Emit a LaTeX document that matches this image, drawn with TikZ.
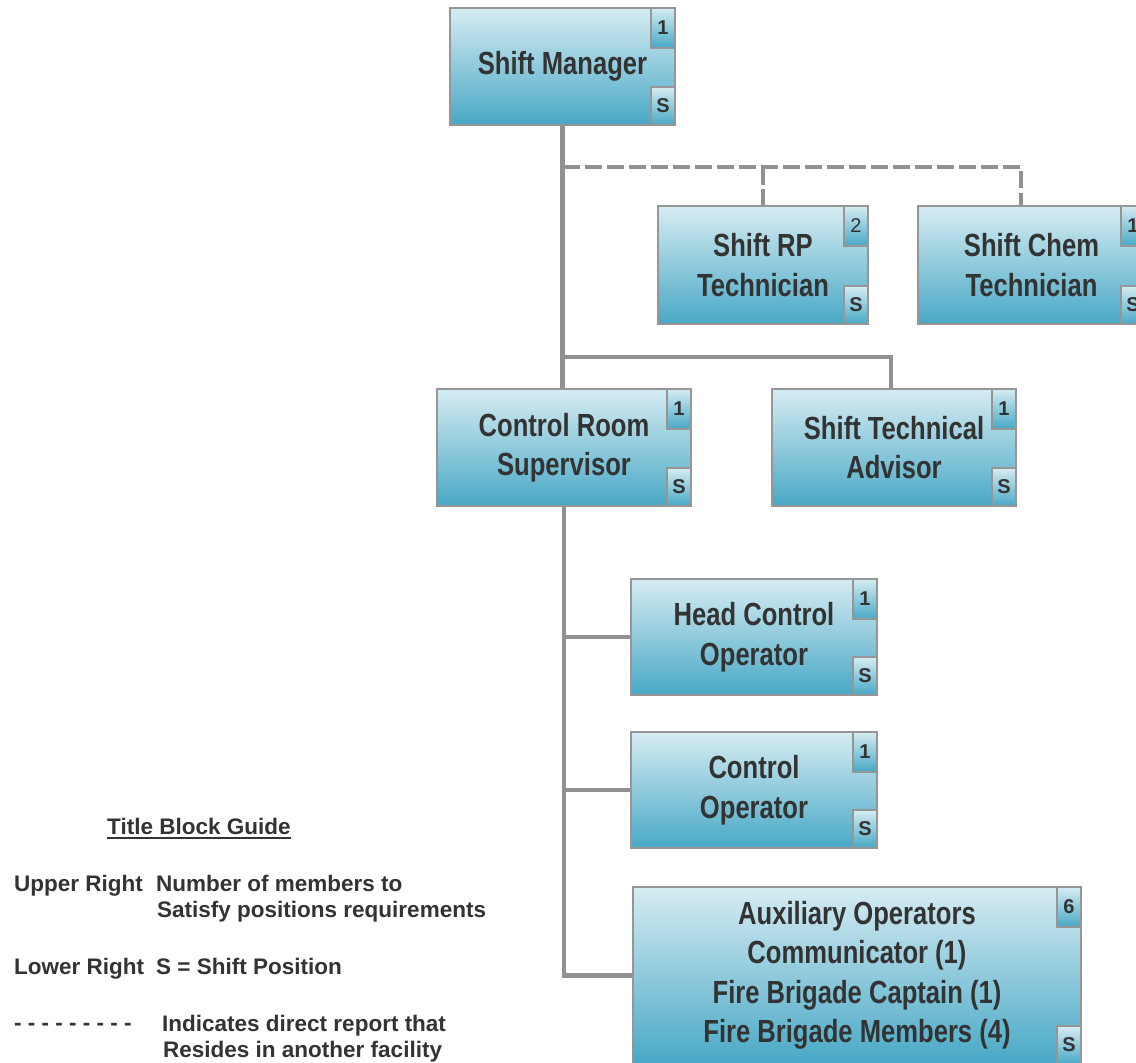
\documentclass[tikz,border=0pt]{standalone}
\usepackage{fontspec}
\setmainfont{Liberation Sans}
\newfontfamily\condensed[FakeStretch=0.8]{Liberation Sans}
\usetikzlibrary{calc}

\definecolor{boxtop}{RGB}{214,236,242}
\definecolor{boxbot}{RGB}{72,168,198}
\definecolor{edge}{RGB}{150,150,150}
\definecolor{wire}{RGB}{145,145,145}
\definecolor{ink}{RGB}{51,51,51}

\begin{document}
\begin{tikzpicture}[x=1pt,y=-1pt,
  post/.style={draw=edge, line width=2pt, top color=boxtop, bottom color=boxbot,
    inner sep=0pt, align=center, text=ink,
    font={\condensed\bfseries\fontsize{32}{39.5}\selectfont}},
  badge/.style={draw=edge, line width=2pt, top color=boxtop, bottom color=boxbot,
    inner sep=0pt, minimum width=24pt, text=ink,
    font={\bfseries\fontsize{20}{24}\selectfont}},
  numtag/.style={badge, minimum height=40pt, anchor=north east},
  shifttag/.style={badge, minimum height=38pt, anchor=south east},
  link/.style={draw=wire, line width=4.5pt},
  dlink/.style={draw=wire, line width=4.5pt, dash pattern=on 17.5pt off 4.5pt},
  legend/.style={inner sep=0pt, anchor=base west, text=ink,
    font={\bfseries\fontsize{22.5}{27}\selectfont}}
]
\useasboundingbox (0,0) rectangle (1136,1063);

% position boxes
\node[post, minimum width=225pt, minimum height=117pt] (sm) at (562.5,66.5) {Shift Manager};
\node[post, minimum width=210pt, minimum height=118pt] (rp) at (763,265) {Shift RP\\Technician};
\node[post, minimum width=227pt, minimum height=118pt] (chem) at (1031.5,265) {Shift Chem\\Technician};
\node[post, minimum width=254pt, minimum height=117pt] (crs) at (564,447.5) {Control Room\\Supervisor};
\node[post, minimum width=244pt, minimum height=117pt] (sta) at (894,447.5) {Shift Technical\\Advisor};
\node[post, minimum width=246pt, minimum height=116pt] (hco) at (754,637) {Head Control\\Operator};
\node[post, minimum width=246pt, minimum height=116pt] (co) at (754,790) {Control\\Operator};
\node[post, minimum width=448pt, minimum height=177pt] (aux) at (857,975.5)
  {Auxiliary Operators\\Communicator (1)\\Fire Brigade Captain (1)\\Fire Brigade Members (4)};

% corner tags: head count (upper) and shift position (lower)
\node[numtag] (smn) at (sm.north east) {1};
\node[shifttag] (sms) at (sm.south east) {S};
\node[numtag, font={\fontsize{20}{24}\selectfont}] (rpn) at (rp.north east) {2};
\node[shifttag] (rps) at (rp.south east) {S};
\node[numtag] (chemn) at (chem.north east) {1};
\node[shifttag] (chems) at (chem.south east) {S};
\node[numtag] (crsn) at (crs.north east) {1};
\node[shifttag] (crss) at (crs.south east) {S};
\node[numtag] (stan) at (sta.north east) {1};
\node[shifttag] (stas) at (sta.south east) {S};
\node[numtag] (hcon) at (hco.north east) {1};
\node[shifttag] (hcos) at (hco.south east) {S};
\node[numtag] (con) at (co.north east) {1};
\node[shifttag] (cos) at (co.south east) {S};
\node[numtag] (auxn) at (aux.north east) {6};
\node[shifttag] (auxs) at (aux.south east) {S};

% junctions on the main trunk
\coordinate (j1) at (562.5,167);
\coordinate (j2) at (562.5,357);

% reporting lines
\draw[link] (sm.south) -- (crs.north -| sm.south);
\draw[dlink] (j1) -| ([xshift=-10.5pt]chem.north);
\draw[dlink] (rp.north |- j1) -- (rp.north);
\draw[link] (j2) -| ([xshift=-3pt]sta.north);
\draw[link] (crs.south) |- (aux.west);
\draw[link] (crs.south |- hco.west) -- (hco.west);
\draw[link] (crs.south |- co.west) -- (co.west);

% legend
\node[legend] (title) at (107,834) {Title Block Guide};
\draw[draw=ink, line width=1.5pt] ([yshift=-4pt]title.base west) -- ([yshift=-4pt]title.base east);
\node[legend] (ur) at (14,891.5) {Upper Right};
\node[legend] (urt1) at (156,891.5) {Number of members to};
\node[legend] (urt2) at (157,917) {Satisfy positions requirements};
\node[legend] (lr) at (14,974) {Lower Right};
\node[legend] (lrt) at (156,974) {S = Shift Position};
\node[legend] (dl) at (14,1030) {- - - - - - - - -};
\node[legend] (dlt1) at (162,1031) {Indicates direct report that};
\node[legend] (dlt2) at (163,1057) {Resides in another facility};
\end{tikzpicture}
\end{document}
